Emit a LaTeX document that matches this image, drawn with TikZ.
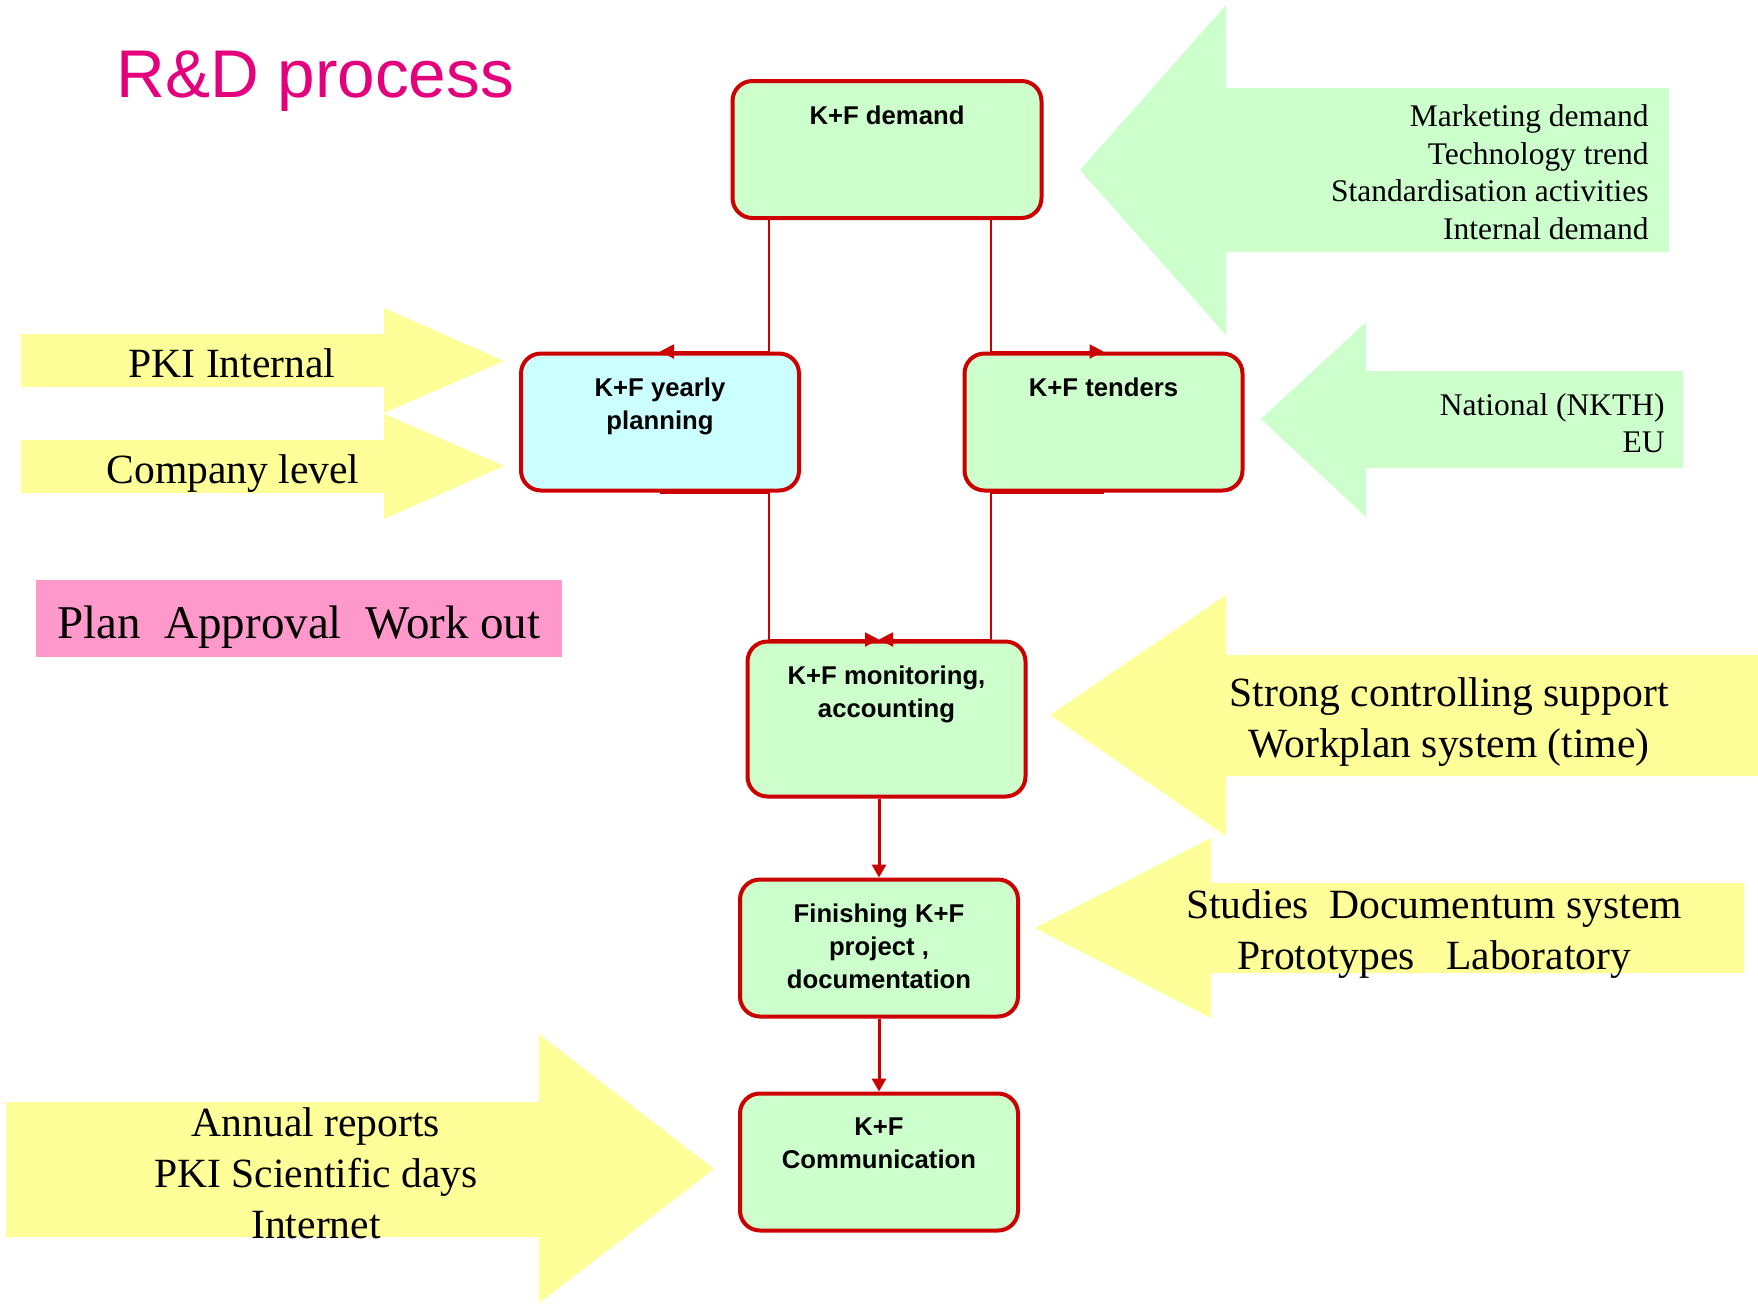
\documentclass[tikz,border=0pt]{standalone}
\usepackage{fontspec}
\setmainfont{Liberation Serif}
\newfontfamily\arialfont{Liberation Sans}
\usetikzlibrary{arrows.meta,calc}
\definecolor{bxred}{RGB}{204,0,0}
\definecolor{lgreen}{RGB}{204,255,204}
\definecolor{lcyan}{RGB}{204,255,255}
\definecolor{lyellow}{RGB}{255,255,153}
\definecolor{lpink}{RGB}{255,153,204}
\definecolor{titlemag}{RGB}{228,0,124}
\begin{document}
\begin{tikzpicture}[x=0.5pt,y=-0.5pt,
  procbox/.style={draw=bxred, line width=2pt, rounded corners=10pt, fill=lgreen,
    minimum width=139pt, minimum height=68.5pt, inner sep=0pt},
  boxtxt/.style={font=\arialfont\bfseries\fontsize{12.85pt}{16.5pt}\selectfont,
    align=center, inner sep=0pt, anchor=north},
  bigtxt/.style={font=\fontsize{20.8pt}{25.5pt}\selectfont, align=center, inner sep=0pt},
  midtxt/.style={font=\fontsize{15.75pt}{18.75pt}\selectfont, align=right, inner sep=0pt},
  conn/.style={draw=bxred, line width=1pt, -{Triangle[length=7pt,width=7pt]}},
  conndown/.style={draw=bxred, line width=1.5pt, -{Triangle[length=6.5pt,width=7pt]}},
  greenarrow/.style={fill=lgreen},
  yellowarrow/.style={fill=lyellow}
]
\useasboundingbox (0,0) rectangle (1758,1303);
\fill[white] (0,0) rectangle (1758,1303);

% block arrows
\fill[greenarrow] (1080,170) -- (1226,5) -- (1226,88) -- (1669,88) -- (1669,252) -- (1226,252) -- (1226,335) -- cycle;
\fill[greenarrow] (1261,419) -- (1366,322) -- (1366,371) -- (1683,371) -- (1683,468) -- (1366,468) -- (1366,517) -- cycle;
\fill[yellowarrow] (1050,715) -- (1226,595) -- (1226,655) -- (1758,655) -- (1758,776) -- (1226,776) -- (1226,836) -- cycle;
\fill[yellowarrow] (1035,928) -- (1211,838) -- (1211,883) -- (1744,883) -- (1744,973) -- (1211,973) -- (1211,1018) -- cycle;
\fill[yellowarrow] (21,334) -- (384,334) -- (384,308) -- (504,361) -- (384,413) -- (384,387) -- (21,387) -- cycle;
\fill[yellowarrow] (21,440) -- (384,440) -- (384,414) -- (504,466) -- (384,519) -- (384,493) -- (21,493) -- cycle;
\fill[yellowarrow] (6,1102) -- (539,1102) -- (539,1034) -- (714,1169) -- (539,1303) -- (539,1237) -- (6,1237) -- cycle;
\fill[lpink] (36,580) rectangle (562,657);

% title
\node[font=\arialfont\fontsize{33.75pt}{40pt}\selectfont, text=titlemag, anchor=base west, inner sep=0pt] (title) at (116,97) {R\&D process};

% arrow texts
\node[midtxt, anchor=north east] (mkt) at (1649,104.5) {Marketing demand\\Technology trend\\Standardisation activities\\Internal demand};
\node[midtxt, anchor=north east] (nat) at (1665,393) {National (NKTH)\\EU};
\node[bigtxt, anchor=north] (strong) at (1449,677) {Strong controlling support\\Workplan system (time)};
\node[bigtxt, anchor=north] (studies) at (1434,889) {Studies\ \ Documentum system\\Prototypes\ \ \ Laboratory};
\node[bigtxt, anchor=base] (pki) at (232,377) {PKI Internal};
\node[bigtxt, anchor=base] (company) at (233,483) {Company level};
\node[bigtxt, anchor=north] (annual) at (316,1107) {Annual reports\\PKI Scientific days\\Internet};
\node[font=\fontsize{23.5pt}{28pt}\selectfont, anchor=base, inner sep=0pt] (plan) at (299,638) {Plan\ \ Approval\ \ Work out};

% process boxes
\node[procbox, minimum width=154.5pt] (demand) at (887,149.5) {};
\node[procbox, fill=lcyan] (yearly) at (660,422) {};
\node[procbox] (tenders) at (1103.5,422) {};
\node[procbox, minimum height=77.5pt] (mon) at (886.5,719) {};
\node[procbox] (fin) at (879,948) {};
\node[procbox] (comm) at (879,1162) {};

\node[boxtxt] (demandT) at ($(demand.north)+(0,26)$) {K+F demand};
\node[boxtxt] (yearlyT) at ($(yearly.north)+(0,26)$) {K+F yearly\\planning};
\node[boxtxt] (tendersT) at ($(tenders.north)+(0,26)$) {K+F tenders};
\node[boxtxt] (monT) at ($(mon.north)+(0,26)$) {K+F monitoring,\\accounting};
\node[boxtxt] (finT) at ($(fin.north)+(0,26)$) {Finishing K+F\\project ,\\documentation};
\node[boxtxt] (commT) at ($(comm.north)+(0,26)$) {K+F\\Communication};

% connectors
\coordinate (xL) at ($(demand.south)+(-118,0)$);
\coordinate (xR) at ($(demand.south)+(104,0)$);
\draw[conn] (xL) |- (yearly.north);
\draw[conn] (xR) |- (tenders.north);
\draw[conn] (yearly.south) -| (xL |- mon.north) -- (mon.north -| fin.north);
\draw[conn] (tenders.south) -| (xR |- mon.north) -- (mon.north -| fin.north);
\draw[conndown] (mon.south -| fin.north) -- (fin.north);
\draw[conndown] (fin.south) -- (comm.north);
\end{tikzpicture}
\end{document}
